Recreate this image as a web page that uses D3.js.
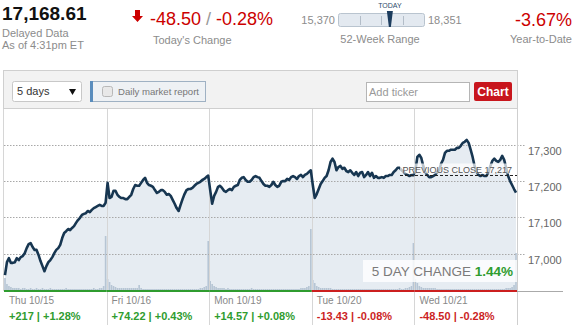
<!DOCTYPE html>
<html>
<head>
<meta charset="utf-8">
<script src="https://cdn.jsdelivr.net/npm/d3@7"></script>
<style>
  body { margin: 0; background: #fff; }
  svg { display: block; font-family: "Liberation Sans", Arial, sans-serif; }
</style>
</head>
<body>
<div id="chart"></div>
<script>
// quote header
var lastPrice = "17,168.61";
var todayChange = "-48.50";
var todayPct = "-0.28%";
var weekLow = 15370, weekHigh = 18351, lastValue = 17168.61;
var ytdChange = "-3.67%";
var fiveDayChange = "1.44%";
var previousClose = 17217;

// days
var dayLabels = ["Thu 10/15", "Fri 10/16", "Mon 10/19", "Tue 10/20", "Wed 10/21"];
var dayChange = ["+217", "+74.22", "+14.57", "-13.43", "-48.50"];
var dayPct = ["+1.28%", "+0.43%", "+0.08%", "-0.08%", "-0.28%"];
var yTicks = [17000, 17100, 17200, 17300];

// intraday prices, evenly spaced through each session
var thuPrices = [16940,16976,16987,16974,16974,16976,16987,16982,16990,16993,17001,17015,17026,17029,17018,17010,17010,16996,16979,16965,16951,16965,16976,16982,16990,17001,17010,17015,17024,17043,17057,17062,17068,17065,17071,17076,17085,17093,17099,17107,17110,17112,17118,17115,17121,17126,17129,17132,17135,17132,17132,17141];
var friPrices = [17196,17154,17157,17174,17174,17163,17157,17154,17154,17151,17151,17157,17163,17179,17190,17188,17188,17196,17204,17210,17196,17190,17188,17185,17176,17168,17171,17176,17176,17171,17163,17165,17160,17149,17138,17126,17118,17135,17151,17165,17176,17179,17179,17182,17188,17193,17196,17199,17204,17207,17212,17216];
var monPrices = [17176,17138,17160,17171,17185,17188,17182,17174,17171,17176,17179,17176,17185,17188,17190,17204,17210,17212,17204,17199,17199,17204,17212,17215,17212,17210,17201,17193,17188,17188,17185,17190,17199,17190,17185,17188,17199,17201,17201,17207,17204,17212,17215,17212,17207,17215,17218,17212,17218,17221,17226,17231];
var tuePrices = [17190,17154,17165,17179,17193,17201,17210,17215,17231,17254,17263,17254,17231,17240,17243,17235,17238,17229,17226,17231,17224,17218,17226,17215,17224,17226,17212,17218,17226,17215,17224,17210,17215,17210,17210,17212,17210,17215,17215,17218,17218,17226,17231,17238,17238,17231,17226,17221,17218,17215,17218,17217];
var wedPrices = [17231,17268,17274,17265,17243,17226,17218,17212,17212,17215,17218,17226,17231,17249,17260,17279,17285,17285,17288,17288,17288,17293,17293,17299,17307,17310,17315,17307,17288,17268,17243,17226,17218,17215,17218,17215,17215,17226,17243,17257,17263,17257,17254,17260,17271,17260,17238,17215,17201,17190,17179,17169];

// volume (hundred thousand shares)
var thuVol = [13,7,5,4,3,3,3,3,2,3,3,2,2,3,2,2,3,2,2,3,2,2,2,3,2,2,2,2,2,2,2,3,2,2,2,2,2,2,2,2,2,2,2,2,2,3,2,2,3,3,5,55];
var friVol = [12,9,6,5,4,3,3,3,3,3,3,3,3,3,3,3,6,3,2,2,2,2,2,2,2,2,2,2,2,2,2,2,2,2,2,2,2,2,2,2,2,2,2,2,2,2,2,3,3,4,5,50];
var monVol = [10,7,5,4,3,3,3,3,2,3,2,2,2,2,2,2,2,2,2,2,2,3,2,2,2,2,2,2,2,2,2,2,2,2,2,2,2,2,2,2,2,2,2,2,2,2,3,3,3,4,5,62];
var tueVol = [11,8,5,4,3,3,3,3,3,3,2,2,2,2,2,2,2,2,2,2,2,2,2,2,2,2,2,2,2,2,2,2,2,2,2,2,2,2,2,2,2,2,2,2,3,2,2,3,3,4,5,48];
var wedVol = [12,8,5,4,3,3,3,3,3,3,3,2,2,2,2,2,2,2,2,2,2,2,2,2,2,2,2,2,2,2,2,2,2,2,2,2,2,2,2,2,2,2,2,2,2,2,3,3,3,4,6,38];

var dayPrices = [thuPrices, friPrices, monPrices, tuePrices, wedPrices];
var dayVolumes = [thuVol, friVol, monVol, tueVol, wedVol];

function fiveDay() {
  var W = 575, H = 325;
  var green = "#2f9c2f", red = "#cc1f1f", gray = "#8c8c8c";
  var plot = { left: 4, right: 517, top: 109, bottom: 291 };

  var svg = d3.select("#chart").append("svg")
    .attr("width", W)
    .attr("height", H);

  // ---- header ----
  var head = svg.append("g");
  head.append("text").attr("x", 2).attr("y", 20)
    .style("font-size", "19px").style("font-weight", "bold").attr("fill", "#111")
    .text(lastPrice);
  head.append("text").attr("x", 2).attr("y", 37)
    .style("font-size", "11px").attr("fill", gray).text("Delayed Data");
  head.append("text").attr("x", 2).attr("y", 49)
    .style("font-size", "11px").attr("fill", gray).text("As of 4:31pm ET");

  head.append("path")
    .attr("d", "M135,10 L140,10 L140,16 L143,16 L137.5,22 L132,16 L135,16 Z")
    .attr("fill", "#cc0000");
  var chg = head.append("text").attr("x", 150).attr("y", 25).style("font-size", "18px");
  chg.append("tspan").attr("fill", "#cc0000").text(todayChange);
  chg.append("tspan").attr("fill", "#999").text(" / ");
  chg.append("tspan").attr("fill", "#cc0000").text(todayPct);
  head.append("text").attr("x", 153).attr("y", 44)
    .style("font-size", "11px").attr("fill", gray).text("Today's Change");

  // 52 week range
  var rangeX = d3.scaleLinear().domain([weekLow, weekHigh]).range([338, 424]);
  head.append("text").attr("x", 335).attr("y", 24).attr("text-anchor", "end")
    .style("font-size", "11px").attr("fill", gray).text(d3.format(",")(weekLow));
  head.append("text").attr("x", 428).attr("y", 24)
    .style("font-size", "11px").attr("fill", gray).text(d3.format(",")(weekHigh));
  head.append("rect").attr("x", 338.5).attr("y", 13.5).attr("width", 86).attr("height", 13).attr("rx", 2)
    .attr("fill", "#e3e9f0").attr("stroke", "#b9c4cf");
  [0.25, 0.5, 0.75].forEach(function(f) {
    var tx = Math.round(rangeX(weekLow + f * (weekHigh - weekLow))) + 0.5;
    head.append("line").attr("x1", tx).attr("x2", tx).attr("y1", 16).attr("y2", 25)
      .attr("stroke", "#b3bdc8");
  });
  var mx = rangeX(lastValue);
  head.append("path")
    .attr("d", "M" + (mx - 3) + ",11 L" + (mx + 3) + ",11 L" + (mx + 1) + ",27 L" + (mx - 1) + ",27 Z")
    .attr("fill", "#1d3d5e");
  head.append("text").attr("x", mx).attr("y", 8).attr("text-anchor", "middle")
    .style("font-size", "7px").attr("fill", "#2c4a6b").text("TODAY");
  head.append("text").attr("x", 380).attr("y", 43).attr("text-anchor", "middle")
    .style("font-size", "11px").attr("fill", gray).text("52-Week Range");

  head.append("text").attr("x", 572).attr("y", 26).attr("text-anchor", "end")
    .style("font-size", "18px").attr("fill", "#cc0000").text(ytdChange);
  head.append("text").attr("x", 572).attr("y", 43).attr("text-anchor", "end")
    .style("font-size", "11px").attr("fill", gray).text("Year-to-Date");

  // ---- toolbar ----
  var bar = svg.append("g");
  bar.append("rect").attr("x", 3.5).attr("y", 70.5).attr("width", 514).attr("height", 38)
    .attr("fill", "#f2f2f2").attr("stroke", "#cfcfcf");
  bar.append("rect").attr("x", 12.5).attr("y", 81.5).attr("width", 69).attr("height", 20).attr("rx", 2)
    .attr("fill", "#fff").attr("stroke", "#c8c8c8");
  bar.append("text").attr("x", 17).attr("y", 95).style("font-size", "11px").attr("fill", "#333").text("5 days");
  bar.append("path").attr("d", "M69,89 L76,89 L72.5,95 Z").attr("fill", "#111");

  bar.append("rect").attr("x", 90.5).attr("y", 81.5).attr("width", 115).attr("height", 20)
    .attr("fill", "#eef1f4").attr("stroke", "#9fb1c3");
  bar.append("rect").attr("x", 90).attr("y", 81).attr("width", 3).attr("height", 21).attr("fill", "#5a8dbd");
  bar.append("rect").attr("x", 102.5).attr("y", 86.5).attr("width", 10).attr("height", 10).attr("rx", 2)
    .attr("fill", "#e8e8e8").attr("stroke", "#b8b8b8");
  bar.append("text").attr("x", 118).attr("y", 95).style("font-size", "9.6px").attr("fill", "#777")
    .text("Daily market report");

  bar.append("rect").attr("x", 366.5).attr("y", 82.5).attr("width", 103).attr("height", 19)
    .attr("fill", "#fff").attr("stroke", "#b5b5b5");
  bar.append("text").attr("x", 369).attr("y", 96).style("font-size", "11px").attr("fill", "#999")
    .text("Add ticker");
  bar.append("rect").attr("x", 474).attr("y", 82).attr("width", 38).attr("height", 19).attr("rx", 2)
    .attr("fill", "#c8161d");
  bar.append("text").attr("x", 493).attr("y", 96).attr("text-anchor", "middle")
    .style("font-size", "12px").style("font-weight", "bold").attr("fill", "#fff").text("Chart");

  // ---- chart ----
  var xScale = d3.scaleLinear().domain([0, dayPrices.length]).range([plot.left, plot.right]);
  var yScale = d3.scaleLinear().domain([16896, 17401]).range([plot.bottom, plot.top]);
  var volScale = d3.scaleLinear().domain([0, 70]).range([plot.bottom, plot.bottom - 70]);

  var points = [];
  var vols = [];
  dayPrices.forEach(function(arr, d) {
    arr.forEach(function(v, i) {
      points.push({ t: d + (i + 0.5) / arr.length, v: v });
    });
    dayVolumes[d].forEach(function(v, i) {
      vols.push({ t: d + (i + 0.5) / dayVolumes[d].length, v: v });
    });
  });

  var area = d3.area()
    .x(function(d) { return xScale(d.t); })
    .y0(plot.bottom)
    .y1(function(d) { return yScale(d.v); });
  var line = d3.line()
    .x(function(d) { return xScale(d.t); })
    .y(function(d) { return yScale(d.v); });

  var g = svg.append("g");

  g.append("path").datum(points).attr("d", area).attr("fill", "#e6ecf2");

  // volume bars
  g.selectAll("rect.vol").data(vols).enter().append("rect")
    .attr("class", "vol")
    .attr("x", function(d) { return xScale(d.t) - 0.8; })
    .attr("width", 1.6)
    .attr("y", function(d) { return volScale(d.v); })
    .attr("height", function(d) { return plot.bottom - volScale(d.v); })
    .attr("fill", "#b6c5d4");

  // dotted horizontal grid + right labels
  g.selectAll("line.grid").data(yTicks).enter().append("line")
    .attr("x1", plot.left).attr("x2", 525)
    .attr("y1", function(d) { return Math.round(yScale(d)) + 0.5; })
    .attr("y2", function(d) { return Math.round(yScale(d)) + 0.5; })
    .attr("stroke", "#a8a8a8").attr("stroke-dasharray", "1.5,1.5");
  g.selectAll("text.ylab").data(yTicks).enter().append("text")
    .attr("x", 528)
    .attr("y", function(d) { return yScale(d) + 10; })
    .style("font-size", "11px").attr("fill", "#666")
    .text(function(d) { return d3.format(",")(d); });

  // day dividers
  g.selectAll("line.day").data(d3.range(1, dayPrices.length)).enter().append("line")
    .attr("x1", function(d) { return Math.round(xScale(d)) + 0.5; })
    .attr("x2", function(d) { return Math.round(xScale(d)) + 0.5; })
    .attr("y1", plot.top).attr("y2", H)
    .attr("stroke", "#d6d6d6");
  g.append("line").attr("x1", plot.right + 0.5).attr("x2", plot.right + 0.5)
    .attr("y1", plot.top).attr("y2", H).attr("stroke", "#cfcfcf");
  g.append("line").attr("x1", 3.5).attr("x2", 3.5)
    .attr("y1", plot.top).attr("y2", plot.bottom).attr("stroke", "#d6d6d6");

  // price line
  g.append("path").datum(points).attr("d", line)
    .attr("fill", "none").attr("stroke", "#173651")
    .attr("stroke-width", 2.6).attr("stroke-linejoin", "round");

  // previous close
  var pcY = Math.round(yScale(previousClose)) + 0.5;
  g.append("rect").attr("x", 400).attr("y", pcY - 12).attr("width", 115).attr("height", 10)
    .attr("fill", "#fff").attr("opacity", 0.7);
  g.append("line").attr("x1", 400).attr("x2", plot.right).attr("y1", pcY).attr("y2", pcY)
    .attr("stroke", "#222").attr("stroke-dasharray", "3,2");
  g.append("text").attr("x", 512).attr("y", pcY - 3).attr("text-anchor", "end")
    .style("font-size", "9px").attr("fill", "#555")
    .text("PREVIOUS CLOSE " + d3.format(",")(previousClose));

  // baseline coloured by day result
  g.append("line").attr("x1", plot.right).attr("x2", 563).attr("y1", plot.bottom + 0.5).attr("y2", plot.bottom + 0.5)
    .attr("stroke", "#aaa");
  g.selectAll("line.base").data(dayChange).enter().append("line")
    .attr("x1", function(d, i) { return xScale(i); })
    .attr("x2", function(d, i) { return xScale(i + 1); })
    .attr("y1", plot.bottom).attr("y2", plot.bottom)
    .attr("stroke", function(d) { return d.charAt(0) === "-" ? red : green; })
    .attr("stroke-width", 2);

  // day labels
  g.selectAll("text.dlab").data(dayLabels).enter().append("text")
    .attr("x", function(d, i) { return xScale(i) + 5; })
    .attr("y", 304)
    .style("font-size", "10px").attr("fill", "#888")
    .text(function(d) { return d; });
  g.selectAll("text.dchg").data(dayChange).enter().append("text")
    .attr("x", function(d, i) { return xScale(i) + 5; })
    .attr("y", 320)
    .style("font-size", "11px").style("font-weight", "bold")
    .attr("fill", function(d) { return d.charAt(0) === "-" ? red : green; })
    .text(function(d, i) { return d + " | " + dayPct[i]; });

  // 5 day change box
  g.append("rect").attr("x", 363).attr("y", 260).attr("width", 154).attr("height", 22)
    .attr("fill", "#fff").attr("opacity", 0.8);
  var fd = g.append("text").attr("x", 513).attr("y", 276).attr("text-anchor", "end")
    .style("font-size", "13.5px");
  fd.append("tspan").attr("fill", "#7a7a7a").text("5 DAY CHANGE ");
  fd.append("tspan").attr("fill", green).style("font-weight", "bold").text(fiveDayChange);
}
fiveDay();
</script>
</body>
</html>
